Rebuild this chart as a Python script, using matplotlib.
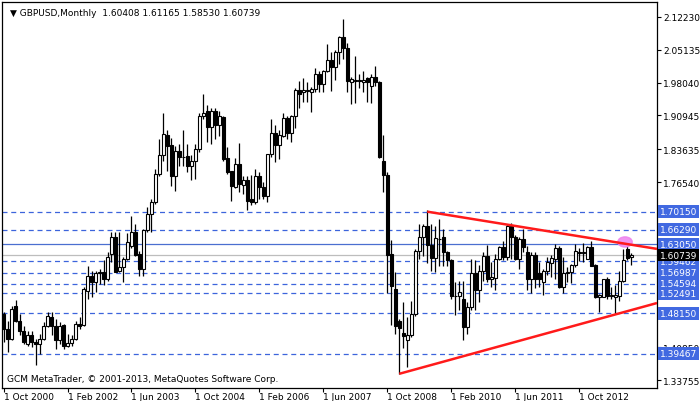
import matplotlib
matplotlib.use("Agg")
import matplotlib.pyplot as plt
from matplotlib.patches import Ellipse, Rectangle

opens = [1.480,1.448,1.427,1.497,1.465,1.444,1.416,1.434,1.419,1.416,1.427,1.454,1.473,1.454,1.423,1.457,1.412,1.418,1.426,1.459,
 1.457,1.531,1.563,1.549,1.569,1.571,1.556,1.610,1.646,1.574,1.581,1.599,1.628,1.657,1.610,1.578,1.661,1.697,1.722,1.783,
 1.823,1.867,1.846,1.778,1.833,1.820,1.822,1.801,1.810,1.837,1.909,1.920,1.884,1.920,1.889,1.907,1.817,1.790,1.754,1.805,
 1.760,1.769,1.729,1.722,1.779,1.754,1.736,1.826,1.872,1.846,1.866,1.903,1.872,1.908,1.964,1.960,1.962,1.961,1.967,2.000,
 1.978,2.006,2.029,2.015,2.046,2.078,2.055,1.981,1.985,1.986,1.981,1.990,1.974,1.992,1.981,1.810,1.781,1.610,1.534,1.465,
 1.439,1.425,1.435,1.480,1.617,1.646,1.671,1.630,1.601,1.643,1.646,1.614,1.596,1.520,1.519,1.513,1.452,1.495,1.569,1.533,
 1.574,1.605,1.555,1.558,1.599,1.625,1.603,1.671,1.646,1.599,1.643,1.615,1.556,1.608,1.569,1.550,1.574,1.591,1.599,1.623,
 1.538,1.569,1.571,1.587,1.614,1.613,1.599,1.625,1.586,1.516,1.516,1.555,1.520,1.518,1.520,1.552,1.621,1.60408]
highs = [1.485,1.466,1.498,1.511,1.480,1.455,1.444,1.444,1.427,1.437,1.462,1.484,1.484,1.470,1.462,1.459,1.437,1.434,1.466,1.473,
 1.538,1.585,1.574,1.574,1.578,1.596,1.614,1.657,1.657,1.657,1.603,1.655,1.693,1.675,1.617,1.665,1.711,1.729,1.794,1.859,
 1.915,1.877,1.860,1.844,1.848,1.877,1.848,1.823,1.848,1.915,1.956,1.931,1.925,1.925,1.920,1.909,1.841,1.790,1.817,1.850,
 1.779,1.779,1.781,1.794,1.787,1.765,1.826,1.902,1.888,1.877,1.915,1.909,1.911,1.968,1.985,1.990,1.981,1.970,2.011,2.005,
 2.008,2.064,2.047,2.050,2.082,2.117,2.066,1.992,2.037,1.999,2.005,1.992,1.999,2.016,1.985,1.867,1.787,1.641,1.572,1.470,
 1.506,1.473,1.509,1.621,1.675,1.675,1.704,1.675,1.671,1.685,1.664,1.617,1.599,1.549,1.552,1.552,1.506,1.599,1.598,1.586,
 1.614,1.630,1.592,1.610,1.628,1.639,1.675,1.677,1.650,1.646,1.663,1.627,1.614,1.615,1.592,1.578,1.603,1.607,1.632,1.627,
 1.603,1.581,1.589,1.632,1.622,1.634,1.628,1.637,1.589,1.524,1.556,1.560,1.538,1.542,1.574,1.621,1.628,1.61165]
lows = [1.420,1.398,1.423,1.462,1.434,1.416,1.412,1.408,1.369,1.394,1.423,1.452,1.434,1.405,1.416,1.405,1.408,1.412,1.423,1.448,
 1.455,1.513,1.516,1.527,1.545,1.542,1.552,1.592,1.570,1.570,1.549,1.596,1.624,1.605,1.563,1.563,1.657,1.657,1.718,1.779,
 1.812,1.790,1.758,1.747,1.801,1.801,1.787,1.769,1.772,1.830,1.902,1.851,1.848,1.859,1.866,1.812,1.783,1.725,1.752,1.743,
 1.740,1.704,1.715,1.718,1.729,1.729,1.722,1.819,1.808,1.815,1.862,1.859,1.851,1.882,1.925,1.939,1.938,1.916,1.960,1.960,
 1.960,2.004,1.963,1.987,2.021,2.032,1.961,1.934,1.936,1.969,1.960,1.939,1.936,1.974,1.817,1.743,1.526,1.457,1.437,1.351,
 1.406,1.365,1.430,1.477,1.599,1.605,1.591,1.574,1.570,1.585,1.583,1.585,1.513,1.478,1.488,1.423,1.437,1.488,1.488,1.506,
 1.552,1.549,1.538,1.533,1.596,1.598,1.596,1.599,1.596,1.578,1.614,1.533,1.526,1.536,1.538,1.522,1.565,1.560,1.556,1.536,
 1.526,1.549,1.547,1.581,1.594,1.592,1.599,1.585,1.514,1.484,1.516,1.513,1.513,1.480,1.509,1.550,1.596,1.58530]
closes = [1.448,1.427,1.491,1.465,1.444,1.419,1.434,1.419,1.416,1.427,1.454,1.477,1.454,1.423,1.454,1.412,1.418,1.426,1.459,1.454,
 1.534,1.563,1.549,1.569,1.571,1.556,1.603,1.646,1.570,1.581,1.599,1.635,1.657,1.608,1.578,1.661,1.697,1.722,1.783,1.824,
 1.869,1.844,1.778,1.833,1.819,1.819,1.801,1.810,1.837,1.909,1.915,1.884,1.920,1.889,1.909,1.815,1.787,1.756,1.805,1.761,
 1.769,1.725,1.722,1.779,1.754,1.736,1.826,1.872,1.846,1.867,1.903,1.872,1.908,1.964,1.956,1.965,1.964,1.967,1.999,1.978,
 2.006,2.029,2.015,2.047,2.078,2.055,1.983,1.988,1.987,1.984,1.986,1.981,1.992,1.981,1.820,1.781,1.608,1.540,1.454,1.449,
 1.432,1.435,1.480,1.616,1.646,1.670,1.630,1.601,1.644,1.642,1.614,1.596,1.519,1.519,1.527,1.452,1.495,1.569,1.533,1.574,
 1.605,1.555,1.560,1.599,1.625,1.603,1.671,1.646,1.599,1.643,1.625,1.556,1.608,1.556,1.555,1.574,1.592,1.601,1.623,1.538,
 1.569,1.571,1.587,1.617,1.613,1.615,1.625,1.585,1.516,1.521,1.555,1.520,1.520,1.521,1.552,1.598,1.601,1.60739]

date_labels = ["1 Oct 2000","1 Feb 2002","1 Jun 2003","1 Oct 2004","1 Feb 2006",
               "1 Jun 2007","1 Oct 2008","1 Feb 2010","1 Jun 2011","1 Oct 2012"]
date_label_bars = [0,16,32,48,64,80,96,112,128,144]
price_ticks = [2.12230,2.05135,1.98040,1.90945,1.83635,1.76540,1.40850,1.33755]
dashed_levels = [1.70150,1.66290,1.59462,1.56987,1.54594,1.52491,1.48150,1.39467]
resist_level = 1.63050
current_price = 1.60739
upper_line_x = [106, 163.5]
upper_line_y = [1.7015, 1.621]
lower_line_x = [99, 163.5]
lower_line_y = [1.351, 1.504]

W, H = 700, 402
fig = plt.figure(figsize=(7, 4.02), dpi=100)
ax = fig.add_axes([2/W, 13/H, 655/W, 386/H])
ax.set_xlim(-0.4, 163.5)
ax.set_ylim(1.3203, 2.1547)

blue = "#3c64dc"
for lv in dashed_levels:
    ax.axhline(lv, color=blue, lw=0.9, ls=(0, (4, 3)), zorder=1)
ax.axhline(resist_level, color="#4a6fd0", lw=0.9, zorder=1)
ax.axhline(current_price, color="#bdbdbd", lw=0.9, zorder=1)

n = len(closes)
xs = list(range(n))
ax.vlines(xs, lows, highs, color="black", lw=0.9, zorder=2)
bw = 0.75
for i in xs:
    o, c = opens[i], closes[i]
    b = min(o, c)
    h = max(abs(c - o), 0.0012)
    ax.add_patch(Rectangle((i - bw/2, b), bw, h, facecolor="white" if c >= o else "black",
                           edgecolor="black", lw=0.8, zorder=3))

ax.plot(upper_line_x, upper_line_y, color="#ff1a1a", lw=1.8, zorder=4, solid_capstyle="butt")
ax.plot(lower_line_x, lower_line_y, color="#ff1a1a", lw=1.8, zorder=4, solid_capstyle="butt")
ax.add_patch(Ellipse((155.5, 1.636), 3.6, 0.022, color="#ee82ee", alpha=0.85, zorder=3.5))

for s in ["top", "right", "left", "bottom"]:
    ax.spines[s].set_linewidth(0.9)
ax.yaxis.tick_right()
ax.set_yticks(price_ticks)
ax.set_yticklabels([f"{v:.5f}" for v in price_ticks], fontsize=6.5)
ax.tick_params(axis="y", length=3, width=0.8, pad=1.5)
ax.set_xticks(date_label_bars)
ax.set_xticklabels(date_labels, fontsize=6.5, ha="left")
ax.tick_params(axis="x", length=3, width=0.8, pad=0)

# right labels
for lv in dashed_levels + [resist_level]:
    ax.text(1.005, lv, f"{lv:.5f}", transform=ax.get_yaxis_transform(), fontsize=6.5, color="white",
            va="center", ha="left", bbox=dict(boxstyle="square,pad=0.2", fc="#4169e1", ec="none"),
            clip_on=False, zorder=10)
ax.text(1.005, current_price, f"{current_price:.5f}", transform=ax.get_yaxis_transform(), fontsize=6.5,
        color="white", va="center", ha="left",
        bbox=dict(boxstyle="square,pad=0.2", fc="black", ec="none"), clip_on=False, zorder=11)

ax.text(0.012, 0.985, "▼ GBPUSD,Monthly  1.60408 1.61165 1.58530 1.60739", transform=ax.transAxes,
        fontsize=6.5, va="top", ha="left")
ax.text(0.008, 0.025, "GCM MetaTrader, © 2001-2013, MetaQuotes Software Corp.", transform=ax.transAxes,
        fontsize=6.5, va="center", ha="left")

fig.savefig("out.png", dpi=100)
